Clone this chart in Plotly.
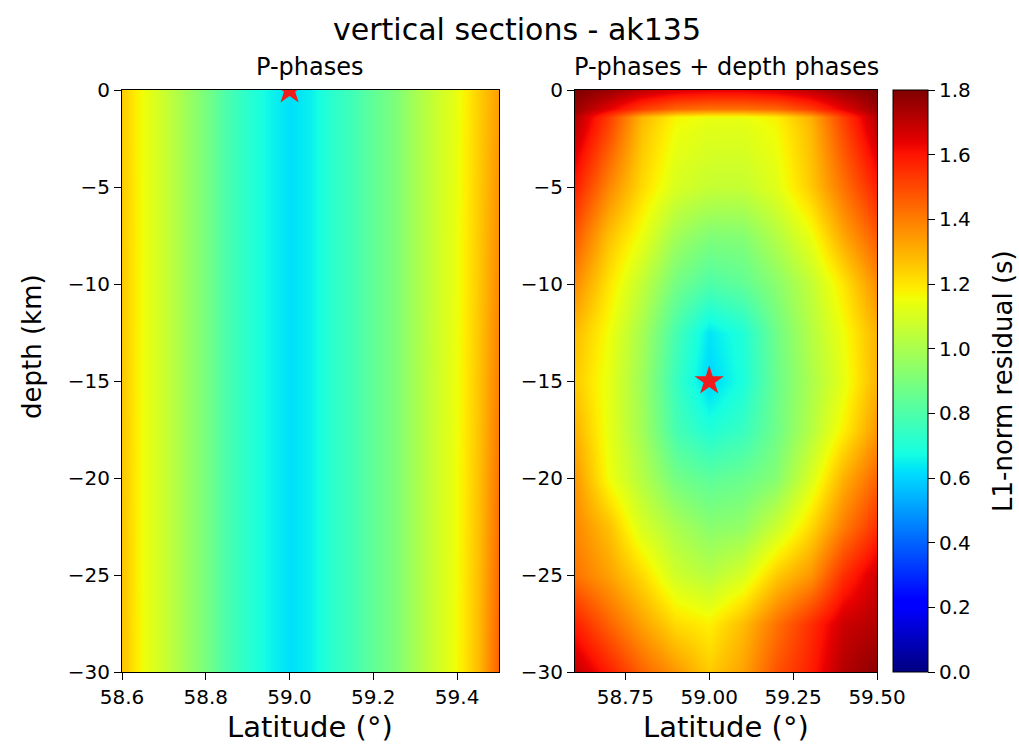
import numpy as np
import plotly.graph_objects as go

# ---------------- data ----------------
left_lat = [58.6, 58.65, 58.7, 58.75, 58.8, 58.85, 58.9, 58.95, 59.0, 59.05,
            59.1, 59.15, 59.2, 59.25, 59.3, 59.35, 59.4, 59.45, 59.5]
left_depth = [0, -30]
left_top = [1.25, 1.15, 1.07, 0.98, 0.89, 0.79, 0.72, 0.66, 0.62, 0.65,
            0.72, 0.77, 0.84, 0.90, 0.99, 1.07, 1.14, 1.24, 1.34]
left_bottom = [1.27, 1.15, 1.07, 0.98, 0.89, 0.79, 0.72, 0.66, 0.62, 0.65,
               0.72, 0.77, 0.84, 0.90, 0.99, 1.08, 1.16, 1.28, 1.46]

right_lat = [58.6, 58.7, 58.8, 58.9, 59.0, 59.1, 59.2, 59.3, 59.4, 59.5]
right_depth = [0, -1, -1.4, -2, -5, -7.5, -10, -12.5, -15, -17.5, -20, -22.5, -25, -27.5, -30]
r_d0 = [1.80, 1.76, 1.70, 1.66, 1.64, 1.64, 1.66, 1.70, 1.76, 1.80]
r_d1 = [1.76, 1.64, 1.52, 1.44, 1.42, 1.42, 1.44, 1.52, 1.64, 1.76]
r_d14 = [1.72, 1.52, 1.29, 1.17, 1.14, 1.14, 1.18, 1.30, 1.52, 1.72]
r_d2 = [1.70, 1.50, 1.27, 1.15, 1.12, 1.12, 1.16, 1.28, 1.50, 1.70]
r_d5 = [1.58, 1.38, 1.22, 1.10, 1.06, 1.06, 1.12, 1.25, 1.42, 1.58]
r_d75 = [1.47, 1.27, 1.14, 0.98, 0.91, 0.92, 1.02, 1.14, 1.32, 1.47]
r_d10 = [1.37, 1.20, 1.05, 0.88, 0.80, 0.84, 0.93, 1.05, 1.20, 1.37]
r_d125 = [1.28, 1.15, 0.99, 0.78, 0.63, 0.70, 0.87, 1.02, 1.15, 1.30]
r_d15 = [1.25, 1.13, 0.97, 0.75, 0.60, 0.69, 0.86, 1.00, 1.13, 1.30]
r_d175 = [1.30, 1.13, 0.98, 0.78, 0.70, 0.75, 0.87, 1.02, 1.18, 1.35]
r_d20 = [1.35, 1.15, 1.02, 0.88, 0.83, 0.86, 0.92, 1.10, 1.30, 1.45]
r_d225 = [1.38, 1.27, 1.10, 1.00, 0.93, 0.95, 1.07, 1.22, 1.40, 1.55]
r_d25 = [1.42, 1.33, 1.22, 1.08, 1.03, 1.10, 1.25, 1.35, 1.55, 1.68]
r_d275 = [1.58, 1.45, 1.33, 1.22, 1.18, 1.28, 1.42, 1.55, 1.68, 1.72]
r_d30 = [1.70, 1.58, 1.45, 1.35, 1.25, 1.33, 1.48, 1.58, 1.72, 1.78]

star_lat = [59.0, 59.0]
star_depth = [0, -15]

left_xticks = [58.6, 58.8, 59.0, 59.2, 59.4]
right_xticks = [58.75, 59.0, 59.25, 59.5]
yticks = [0, -5, -10, -15, -20, -25, -30]
cbar_ticks = [0.0, 0.2, 0.4, 0.6, 0.8, 1.0, 1.2, 1.4, 1.6, 1.8]

# ---------------- matplotlib "jet" colorscale ----------------
_r = ([0, 0.35, 0.66, 0.89, 1], [0, 0, 1, 1, 0.5])
_g = ([0, 0.125, 0.375, 0.64, 0.91, 1], [0, 0, 1, 1, 0, 0])
_b = ([0, 0.11, 0.34, 0.65, 1], [0.5, 1, 1, 0, 0])
ts = sorted(set(list(np.linspace(0, 1, 41)) + _r[0] + _g[0] + _b[0]))
jet = []
for t in ts:
    rr = np.interp(t, *_r); gg = np.interp(t, *_g); bb = np.interp(t, *_b)
    jet.append([float(t), f"rgb({int(round(rr*255))},{int(round(gg*255))},{int(round(bb*255))})"])

z_left = [left_top, left_bottom]
z_right = [r_d0, r_d1, r_d14, r_d2, r_d5, r_d75, r_d10, r_d125, r_d15,
           r_d175, r_d20, r_d225, r_d25, r_d275, r_d30]

W, H = 1019, 746
def px(x): return x / W
def py(y): return 1 - y / H

fig = go.Figure()
fig.add_trace(go.Heatmap(x=left_lat, y=left_depth, z=z_left, zmin=0, zmax=1.8,
                         colorscale=jet, zsmooth="best", showscale=False,
                         xaxis="x", yaxis="y"))
fig.add_trace(go.Heatmap(x=right_lat, y=right_depth, z=z_right, zmin=0, zmax=1.8,
                         colorscale=jet, zsmooth="best", xaxis="x2", yaxis="y2",
                         colorbar=dict(x=px(893), xanchor="left", xpad=0, ypad=0,
                                       y=py(90), yanchor="top", len=582, lenmode="pixels",
                                       thickness=35, thicknessmode="pixels",
                                       outlinecolor="black", outlinewidth=1,
                                       ticks="outside", ticklen=7, tickwidth=1,
                                       tickcolor="black", tickvals=cbar_ticks,
                                       tickformat=".1f",
                                       tickfont=dict(size=20, color="black"))))
fig.add_trace(go.Scatter(x=[star_lat[0]], y=[star_depth[0]], mode="markers",
                         marker=dict(symbol="star", size=22, color="#ee1c1c"),
                         xaxis="x", yaxis="y", showlegend=False, cliponaxis=True))
fig.add_trace(go.Scatter(x=[star_lat[1]], y=[star_depth[1]], mode="markers",
                         marker=dict(symbol="star", size=22, color="#ee1c1c"),
                         xaxis="x2", yaxis="y2", showlegend=False, cliponaxis=True))

axis_common = dict(showline=True, linecolor="black", linewidth=1, mirror=True,
                   ticks="outside", ticklen=7, tickwidth=1, tickcolor="black",
                   showgrid=False, zeroline=False, automargin=False,
                   tickfont=dict(size=20, color="black"))

fig.update_layout(
    width=W, height=H, margin=dict(l=0, r=0, t=0, b=0, pad=0, autoexpand=False),
    paper_bgcolor="white", plot_bgcolor="white", showlegend=False,
    font=dict(family="DejaVu Sans", color="black"),
    xaxis=dict(domain=[px(122), px(499)], range=[58.6, 59.5], tickvals=left_xticks,
               tickformat=".1f", anchor="y", **axis_common),
    yaxis=dict(domain=[py(672), py(90)], range=[-30, 0], tickvals=yticks,
               anchor="x", **axis_common),
    xaxis2=dict(domain=[px(575), px(877)], range=[58.6, 59.5], tickvals=right_xticks,
                tickformat=".2f", anchor="y2", **axis_common),
    yaxis2=dict(domain=[py(672), py(90)], range=[-30, 0], tickvals=yticks,
                anchor="x2", **axis_common),
)

ann = [
    dict(text="vertical sections - ak135", x=px(517), y=py(29), size=30),
    dict(text="P-phases", x=px(310), y=py(67), size=24),
    dict(text="P-phases + depth phases", x=px(726), y=py(67), size=24),
    dict(text="Latitude (°)", x=px(310), y=py(727), size=29),
    dict(text="Latitude (°)", x=px(726), y=py(727), size=29),
]
for a in ann:
    fig.add_annotation(text=a["text"], x=a["x"], y=a["y"], xref="paper", yref="paper",
                       xanchor="center", yanchor="middle", showarrow=False,
                       font=dict(size=a["size"], color="black"))
fig.add_annotation(text="depth (km)", x=px(32), y=py(347), xref="paper", yref="paper",
                   textangle=-90, showarrow=False, xanchor="center", yanchor="middle",
                   font=dict(size=26, color="black"))
fig.add_annotation(text="L1-norm residual (s)", x=px(1003), y=py(381), xref="paper", yref="paper",
                   textangle=-90, showarrow=False, xanchor="center", yanchor="middle",
                   font=dict(size=26, color="black"))

fig.write_html("out.html")
